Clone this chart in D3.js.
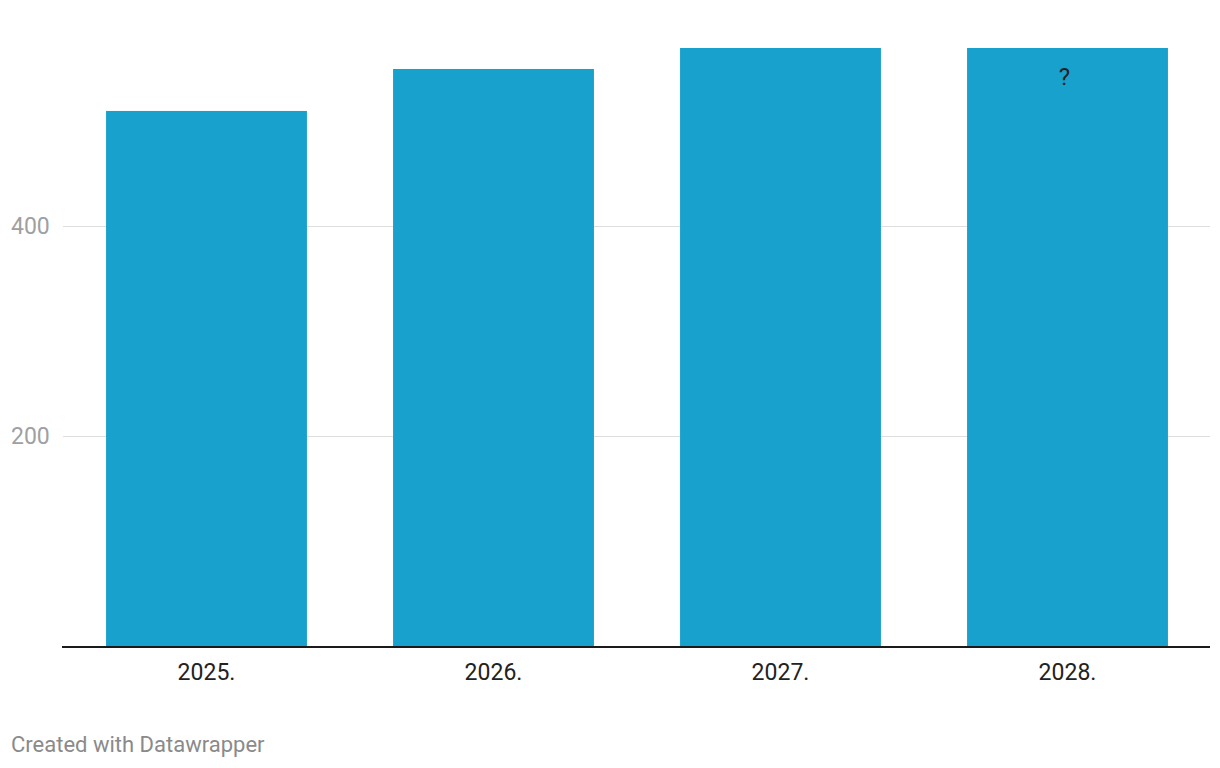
<!DOCTYPE html>
<html>
<head>
<meta charset="utf-8">
<script src="https://cdn.jsdelivr.net/npm/d3@7"></script>
<style>
  html, body { margin: 0; padding: 0; background: #fff; }
  svg { display: block; font-family: Roboto, "Noto Sans", sans-serif; }
</style>
</head>
<body>
<svg id="chart" width="1220" height="768"></svg>
<script>
const categories = ["2025.", "2026.", "2027.", "2028."];
const values = [510, 550, 570, 570];
const barLabels = ["", "", "", "?"];
const yTicks = [200, 400];

const svg = d3.select("#chart");
const margin = { left: 63, right: 9, top: 48, bottom: 122 };
const W = 1220, H = 768;

const x = d3.scaleBand()
  .domain(categories)
  .range([margin.left, W - margin.right])
  .paddingInner(0.3)
  .paddingOuter(0.15);

const y = d3.scaleLinear()
  .domain([0, 570])
  .range([646, 48]);

// gridlines
const grid = svg.append("g");
grid.selectAll("line")
  .data(yTicks)
  .enter().append("line")
  .attr("x1", 63)
  .attr("x2", 1210)
  .attr("y1", d => Math.round(y(d)) + 0.5)
  .attr("y2", d => Math.round(y(d)) + 0.5)
  .attr("stroke", "#dedede")
  .attr("stroke-width", 1);

// y tick labels
svg.append("g").selectAll("text")
  .data(yTicks)
  .enter().append("text")
  .attr("x", 11)
  .attr("y", d => y(d))
  .attr("dy", "0.35em")
  .attr("fill", "#a0a0a0")
  .attr("font-size", 23)
  .text(d => d);

// bars
svg.append("g").selectAll("rect")
  .data(categories)
  .enter().append("rect")
  .attr("x", d => x(d))
  .attr("width", x.bandwidth())
  .attr("y", (d, i) => y(values[i]))
  .attr("height", (d, i) => y(0) - y(values[i]))
  .attr("fill", "#19a1cd");

// bar labels
svg.append("g").selectAll("text")
  .data(categories)
  .enter().append("text")
  .attr("x", d => x(d) + x.bandwidth() / 2 - 3)
  .attr("y", (d, i) => y(values[i]) + 37)
  .attr("text-anchor", "middle")
  .attr("fill", "#222")
  .attr("font-size", 24)
  .text((d, i) => barLabels[i]);

// x axis line
svg.append("line")
  .attr("x1", 62)
  .attr("x2", 1210)
  .attr("y1", 647)
  .attr("y2", 647)
  .attr("stroke", "#1a1a1a")
  .attr("stroke-width", 2);

// x labels
svg.append("g").selectAll("text")
  .data(categories)
  .enter().append("text")
  .attr("x", d => x(d) + x.bandwidth() / 2)
  .attr("y", 680)
  .attr("text-anchor", "middle")
  .attr("fill", "#222")
  .attr("font-size", 23)
  .text(d => d);

// footer
svg.append("text")
  .attr("x", 11)
  .attr("y", 752)
  .attr("fill", "#8a8a8a")
  .attr("font-size", 22)
  .text("Created with Datawrapper");
</script>
</body>
</html>
